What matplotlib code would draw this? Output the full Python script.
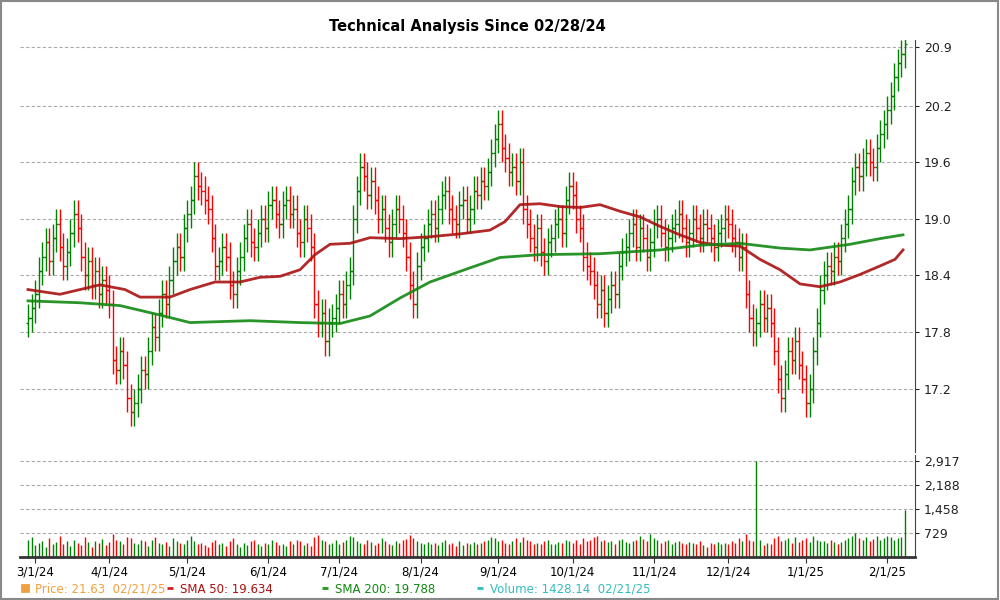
import matplotlib
matplotlib.use("Agg")
import matplotlib.pyplot as plt
import numpy as np
import pandas as pd
from matplotlib.patches import Rectangle

closes = [17.95, 18.05,
 18.2, 18.45, 18.6, 18.75, 18.55, 18.8, 18.95, 18.7, 18.5, 18.65, 18.85, 19.05, 18.9, 18.6, 18.4, 18.55, 18.3, 18.45, 18.2, 18.35, 18.25,
 18.1, 17.5, 17.4, 17.6, 17.45, 17.1, 16.95, 17.05, 17.2, 17.4, 17.35, 17.6, 17.85, 17.75, 18.0, 18.2, 18.1, 18.35, 18.55, 18.7, 18.6, 18.9,
 19.05, 19.2, 19.45, 19.35, 19.3, 19.2, 19.1, 18.8, 18.5, 18.55, 18.7, 18.6, 18.3, 18.2, 18.45, 18.6, 18.8, 18.95, 18.75, 18.7, 18.85, 19.0,
 18.9, 19.15, 19.2, 19.05, 18.95, 19.15, 19.2, 19.05, 19.1, 18.85, 18.75, 19.0, 18.9, 18.7, 18.1, 17.9, 18.0, 17.7, 17.9,
 17.95, 18.05, 18.2, 18.1, 18.3, 18.45, 19.0, 19.3, 19.55, 19.45, 19.25, 19.4, 19.2, 19.0, 19.1, 18.9, 18.75, 18.95, 19.1, 19.0, 18.85, 18.6,
 18.3, 18.1, 18.5, 18.7, 18.8, 18.95, 19.05, 18.9, 19.1, 19.25, 19.3, 19.1, 19.0, 18.95, 19.15, 19.2, 19.0, 19.1, 19.3, 19.25, 19.4, 19.35,
 19.5, 19.7, 19.85, 20.0, 19.75, 19.65, 19.5, 19.55, 19.4, 19.6, 19.1, 18.95, 18.8, 18.7, 18.9, 18.65, 18.55, 18.75, 18.8, 18.95,
 19.0, 18.85, 19.2, 19.35, 19.25, 19.0, 18.9, 18.6, 18.5, 18.45, 18.3, 18.1, 18.25, 18.0, 18.15, 18.3, 18.2, 18.5, 18.65, 18.7, 18.85, 18.95, 18.7,
 18.9, 18.8, 18.6, 18.75, 18.95, 19.0, 18.85, 18.7, 18.8, 18.9, 18.95, 19.05, 18.9, 18.75, 18.85, 19.0, 18.9, 18.8, 18.95, 18.9,
 18.8, 18.7, 18.85, 18.9, 19.0, 18.95, 18.8, 18.75, 18.6, 18.7, 18.2, 17.95, 17.8, 17.9, 18.1, 17.95, 18.05, 17.9, 17.6, 17.3,
 17.1, 17.35, 17.6, 17.5, 17.7, 17.45, 17.3, 17.05, 17.2, 17.6, 17.9, 18.25, 18.4, 18.5, 18.45, 18.6, 18.55, 18.8, 18.95, 19.1, 19.4,
 19.55, 19.45, 19.6, 19.7, 19.6, 19.55, 19.75, 19.9, 20.0, 20.15, 20.3, 20.5, 20.65, 20.75, 20.85]

volumes = [520,610,350,420,480,300,560,390,450,620,380,470,330,510,420,360,590,440,300,480,410,530,370,
 450,700,520,480,390,610,560,430,380,500,470,340,520,600,410,380,450,330,560,490,420,380,
 510,640,480,390,420,350,300,460,520,380,410,330,470,560,390,300,420,360,480,510,380,340,
 420,380,510,460,350,400,330,470,390,520,480,360,410,340,600,650,520,470,390,
 430,510,380,460,520,640,590,480,420,390,510,450,370,430,560,480,400,350,470,420,510,530,
 650,580,480,420,390,460,380,410,350,440,500,380,420,330,470,360,410,390,450,380,420,470,
 510,600,560,480,520,430,390,470,580,440,610,520,470,400,430,380,470,510,400,380,
 450,420,510,480,430,520,390,560,470,510,600,640,480,520,440,470,390,500,540,460,430,480,510,
 620,540,480,700,560,510,430,470,520,400,460,480,410,390,450,430,380,470,350,300,
 420,380,450,400,430,390,470,410,560,480,680,520,470,2900,500,350,420,380,560,640,
 480,520,570,420,610,450,520,580,460,640,520,490,470,410,520,440,400,460,510,560,640,
 710,560,520,600,480,540,620,510,580,640,590,520,560,610,1430]

sma50_x = [28,60,100,125,140,170,190,215,240,260,280,300,315,330,350,370,400,430,460,490,505,520,540,560,580,600,620,640,660,680,700,720,740,760,780,800,820,840,860,880,895,903]
sma50_v = [18.25,18.2,18.3,18.25,18.17,18.17,18.25,18.33,18.33,18.38,18.39,18.46,18.62,18.73,18.74,18.8,18.79,18.81,18.84,18.88,18.97,19.15,19.16,19.13,19.12,19.15,19.08,19.02,18.92,18.83,18.75,18.72,18.71,18.57,18.46,18.31,18.28,18.33,18.41,18.5,18.57,18.67]
sma200_x = [28,80,120,160,190,250,300,340,370,400,430,470,500,540,600,660,700,740,780,810,850,880,903]
sma200_v = [18.13,18.11,18.08,17.98,17.9,17.92,17.9,17.89,17.97,18.16,18.33,18.48,18.59,18.62,18.63,18.67,18.72,18.74,18.69,18.67,18.73,18.79,18.83]

N = len(closes)
dates = pd.bdate_range("2024-02-28", periods=N)
opens = [17.9] + closes[:-1]
x = np.arange(N)
ppb = (905 - 28) / (N - 1)
def px2idx(p): return (np.array(p) - 28) / ppb

fig = plt.figure(figsize=(10, 6), dpi=100)
fig.patches.append(Rectangle((0.001, 0.002), 0.997, 0.996, transform=fig.transFigure,
                             fill=False, edgecolor="#888888", lw=1.5))
axp = fig.add_axes([0.02, 0.247, 0.895, 0.687])
axv = fig.add_axes([0.02, 0.072, 0.895, 0.170], sharex=axp)

up = "#008000"; dn = "#ff0000"
for i in x:
    o, c = opens[i], closes[i]
    col = up if c >= o else dn
    hi, lo = max(o, c) + 0.15, min(o, c) - 0.15
    axp.vlines(i, lo, hi, color=col, lw=1.0)
    axp.hlines(o, i - 0.6, i, color=col, lw=1.0)
    axp.hlines(c, i, i + 0.6, color=col, lw=1.0)
    axv.vlines(i, 0, volumes[i], color=col, lw=1.0)

axp.plot(px2idx(sma50_x), sma50_v, color="#aa1111", lw=2.0, alpha=0.9)
axp.plot(px2idx(sma200_x), sma200_v, color="#118811", lw=2.0, alpha=0.9)

axp.set_xlim(-8 / ppb, N - 1 + 10 / ppb)
axp.set_ylim(16.53, 20.90)
yt = [17.2, 17.8, 18.4, 19.0, 19.6, 20.2, 20.82]
axp.set_yticks(yt)
axp.set_yticklabels(["17.2", "17.8", "18.4", "19.0", "19.6", "20.2", "20.9"])
axp.yaxis.tick_right()
axp.grid(axis="y", color="#aaaaaa", ls=(0, (3, 2)), lw=0.8)
for s in ["left", "top", "bottom"]:
    axp.spines[s].set_visible(False)
axp.spines["right"].set_color("#444444")
axp.tick_params(axis="x", bottom=False, labelbottom=False)
axp.tick_params(axis="y", labelsize=9, colors="#222222", length=3)
axp.set_title("Technical Analysis Since 02/28/24", fontsize=10.5, fontweight="bold", pad=6)

axv.set_ylim(0, 3100)
axv.set_yticks([729, 1458, 2188, 2917])
axv.set_yticklabels(["729", "1,458", "2,188", "2,917"])
axv.yaxis.tick_right()
axv.grid(axis="y", color="#aaaaaa", ls=(0, (3, 2)), lw=0.8)
for s in ["left", "top"]:
    axv.spines[s].set_visible(False)
axv.spines["bottom"].set_linewidth(2)
axv.spines["bottom"].set_color("#333333")
axv.spines["right"].set_color("#444444")
axv.tick_params(axis="y", labelsize=9, colors="#222222", length=3)

ticks, labels = [], []
prev = None
for i, d in enumerate(dates):
    if prev is not None and d.month != prev:
        ticks.append(i); labels.append(f"{d.month}/1/{d.strftime('%y')}")
    prev = d.month
axv.set_xticks(ticks)
axv.set_xticklabels(labels, fontsize=8.5)
axv.tick_params(axis="x", length=4, pad=2, color="#333333")

ly = 0.012
items = [(0.025, "#f0a040", "Price: 21.63  02/21/25", "#f0a040", "s"),
         (0.17, "#cc2222", "SMA 50: 19.634", "#aa1111", "_"),
         (0.325, "#229922", "SMA 200: 19.788", "#118811", "_"),
         (0.48, "#33bbbb", "Volume: 1428.14  02/21/25", "#33bbbb", "_")]
for xx, mc, txt, tc, m in items:
    fig.lines.append(plt.Line2D([xx], [ly + 0.008], marker=m, color=mc, ms=5, mew=2,
                                transform=fig.transFigure))
    fig.text(xx + 0.01, ly, txt, color=tc, fontsize=8.5)

fig.savefig("out.png", dpi=100)
